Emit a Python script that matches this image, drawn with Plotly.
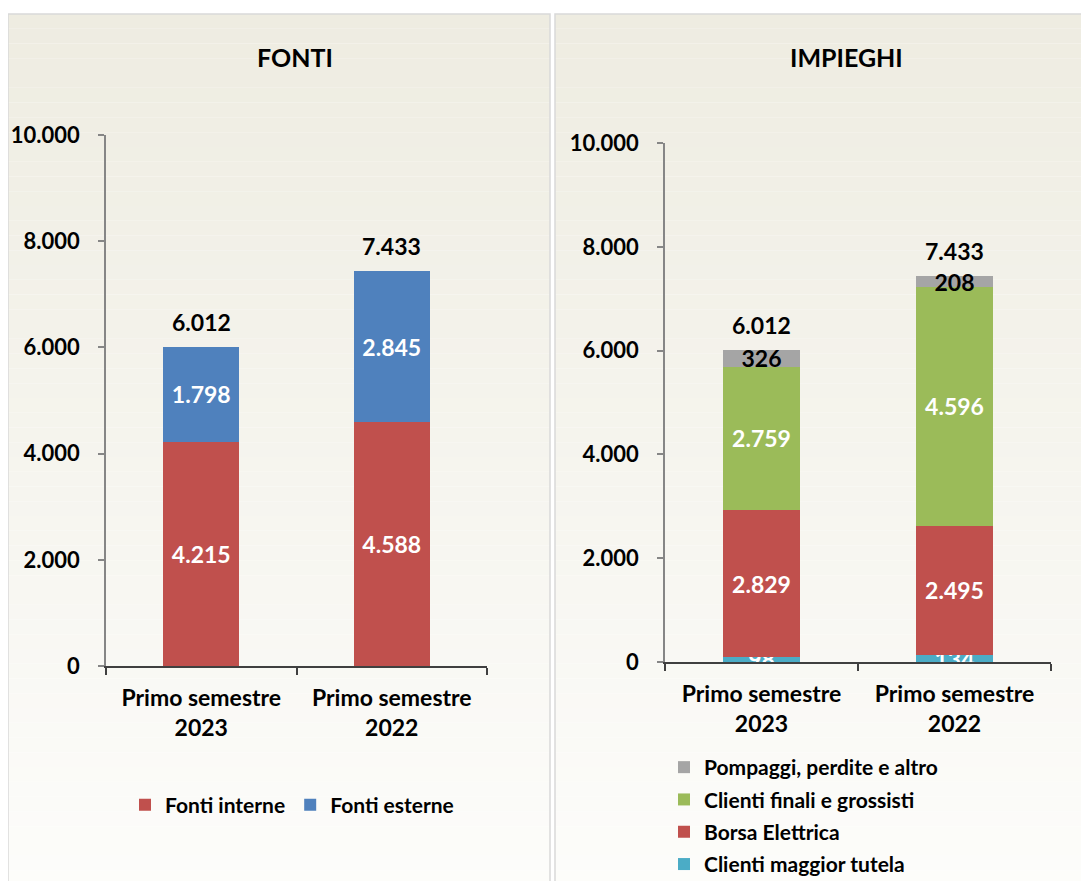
import plotly.graph_objects as go

# ---------------- data ----------------
categories = ["Primo semestre<br>2023", "Primo semestre<br>2022"]

fonti_interne = [4215, 4588]
fonti_esterne = [1798, 2845]
fonti_totale = [6012, 7433]

imp_maggior_tutela = [98, 134]
imp_borsa = [2829, 2495]
imp_clienti_finali = [2759, 4596]
imp_pompaggi = [326, 208]
impieghi_totale = [6012, 7433]

y_ticks = [0, 2000, 4000, 6000, 8000, 10000]

# ---------------- styling ----------------
OFF = 8  # page body margin
W, H = 1089 - OFF, 881 - OFF
FONT = "Lato"
RED = "#C0504D"
BLUE = "#4F81BD"
GREEN = "#9BBB59"
GRAY = "#A5A5A5"
CYAN = "#4BACC6"


def fmt(v):
    return f"{v:,}".replace(",", ".")


def px(x):
    return (x - OFF) / W


def py(y):
    return 1 - (y - OFF) / H


fig = go.Figure()


def add_bar(x, y, name, color, xa, ya, legend, rank, textcolor="white"):
    fig.add_trace(go.Bar(
        x=x, y=y, name=name, marker=dict(color=color, line=dict(width=0)),
        text=[fmt(v) for v in y], textposition="inside", insidetextanchor="middle",
        textangle=0, textfont=dict(family=FONT, size=23, color=textcolor, weight="bold"),
        xaxis=xa, yaxis=ya, legend=legend, legendgroup=name, legendrank=rank,
        hoverinfo="skip",
    ))


add_bar(categories, fonti_interne, "Fonti interne", RED, "x", "y", "legend", 1)
add_bar(categories, fonti_esterne, "Fonti esterne", BLUE, "x", "y", "legend", 2)

add_bar(categories, imp_maggior_tutela, "Clienti maggior tutela", CYAN, "x2", "y2", "legend2", 4)
add_bar(categories, imp_borsa, "Borsa Elettrica", RED, "x2", "y2", "legend2", 3)
add_bar(categories, imp_clienti_finali, "Clienti finali e grossisti", GREEN, "x2", "y2", "legend2", 2)
add_bar(categories, imp_pompaggi, "Pompaggi, perdite e altro", GRAY, "x2", "y2", "legend2", 1,
        textcolor="black")

# totals above bars
annotations = []
tot_font = dict(family=FONT, size=23, color="black", weight="bold")
for cat, tot in zip(categories, fonti_totale):
    annotations.append(dict(x=cat, y=tot, xref="x", yref="y", text=fmt(tot), showarrow=False,
                            yshift=25, font=tot_font))
for cat, tot in zip(categories, impieghi_totale):
    annotations.append(dict(x=cat, y=tot, xref="x2", yref="y2", text=fmt(tot), showarrow=False,
                            yshift=25, font=tot_font))

# panel titles
title_font = dict(family=FONT, size=25, color="black", weight="bold")
annotations.append(dict(x=px(295), y=py(57), xref="paper", yref="paper", text="FONTI",
                        xanchor="center", yanchor="middle", showarrow=False, font=title_font))
annotations.append(dict(x=px(846), y=py(57), xref="paper", yref="paper", text="IMPIEGHI",
                        xanchor="center", yanchor="middle", showarrow=False, font=title_font))

# ---------------- background panels with gradient ----------------
shapes = []
top_c = (238, 236, 225)
bot_c = (253, 253, 251)
N = 60
y_start, y_end = 14, 900
panels = [(8, 550), (555, 1100)]
for (x0, x1) in panels:
    for i in range(N):
        ya = y_start + (y_end - y_start) * i / N
        yb = y_start + (y_end - y_start) * (i + 1) / N
        t = (i + 0.5) / N
        c = tuple(round(top_c[k] + (bot_c[k] - top_c[k]) * t) for k in range(3))
        shapes.append(dict(type="rect", xref="paper", yref="paper", layer="below",
                           x0=px(x0), x1=px(x1), y0=py(yb), y1=py(ya),
                           fillcolor=f"rgb{c}", line=dict(width=0)))
    shapes.append(dict(type="rect", xref="paper", yref="paper", layer="below",
                       x0=px(x0), x1=px(x1), y0=py(y_end), y1=py(y_start),
                       fillcolor="rgba(0,0,0,0)", line=dict(color="#D9D9D9", width=1.5)))

yaxis_common = dict(range=[0, 10000], tickvals=y_ticks, tickformat=",d", showgrid=False,
                    zeroline=False, showline=True, linecolor="#868686", linewidth=1.5,
                    ticks="outside", ticklen=6, tickcolor="#868686", tickwidth=1.5,
                    ticklabelstandoff=14,
                    tickfont=dict(family=FONT, size=22, color="black", weight="bold"))
xaxis_common = dict(showgrid=False, zeroline=False, showline=True, linecolor="#404040",
                    linewidth=1.5, ticks="outside", ticklen=7, tickcolor="#404040",
                    tickwidth=1.5, tickson="boundaries", ticklabelstandoff=11,
                    tickfont=dict(family=FONT, size=23, color="black", weight="bold"))

fig.update_layout(
    width=W, height=H,
    margin=dict(l=0, r=0, t=0, b=0, autoexpand=False),
    paper_bgcolor="white", plot_bgcolor="rgba(0,0,0,0)",
    separators=",.",
    barmode="stack", bargap=0.6,
    uniformtext=dict(minsize=23, mode="show"),
    xaxis=dict(domain=[px(106), px(487)], anchor="y", **xaxis_common),
    yaxis=dict(domain=[py(666), py(135)], anchor="x", **yaxis_common),
    xaxis2=dict(domain=[px(665), px(1051)], anchor="y2", **xaxis_common),
    yaxis2=dict(domain=[py(662), py(143)], anchor="x2", **yaxis_common),
    legend=dict(orientation="h", x=px(292), xanchor="center", y=py(805), yanchor="middle",
                bgcolor="rgba(0,0,0,0)", traceorder="normal",
                font=dict(family=FONT, size=21, color="black", weight="bold")),
    legend2=dict(orientation="v", x=px(664), xanchor="left", y=py(747), yanchor="top",
                 bgcolor="rgba(0,0,0,0)", traceorder="grouped", tracegroupgap=2,
                 font=dict(family=FONT, size=21, color="black", weight="bold")),
    shapes=shapes,
    annotations=annotations,
    showlegend=True,
)

fig.write_html("out.html")
